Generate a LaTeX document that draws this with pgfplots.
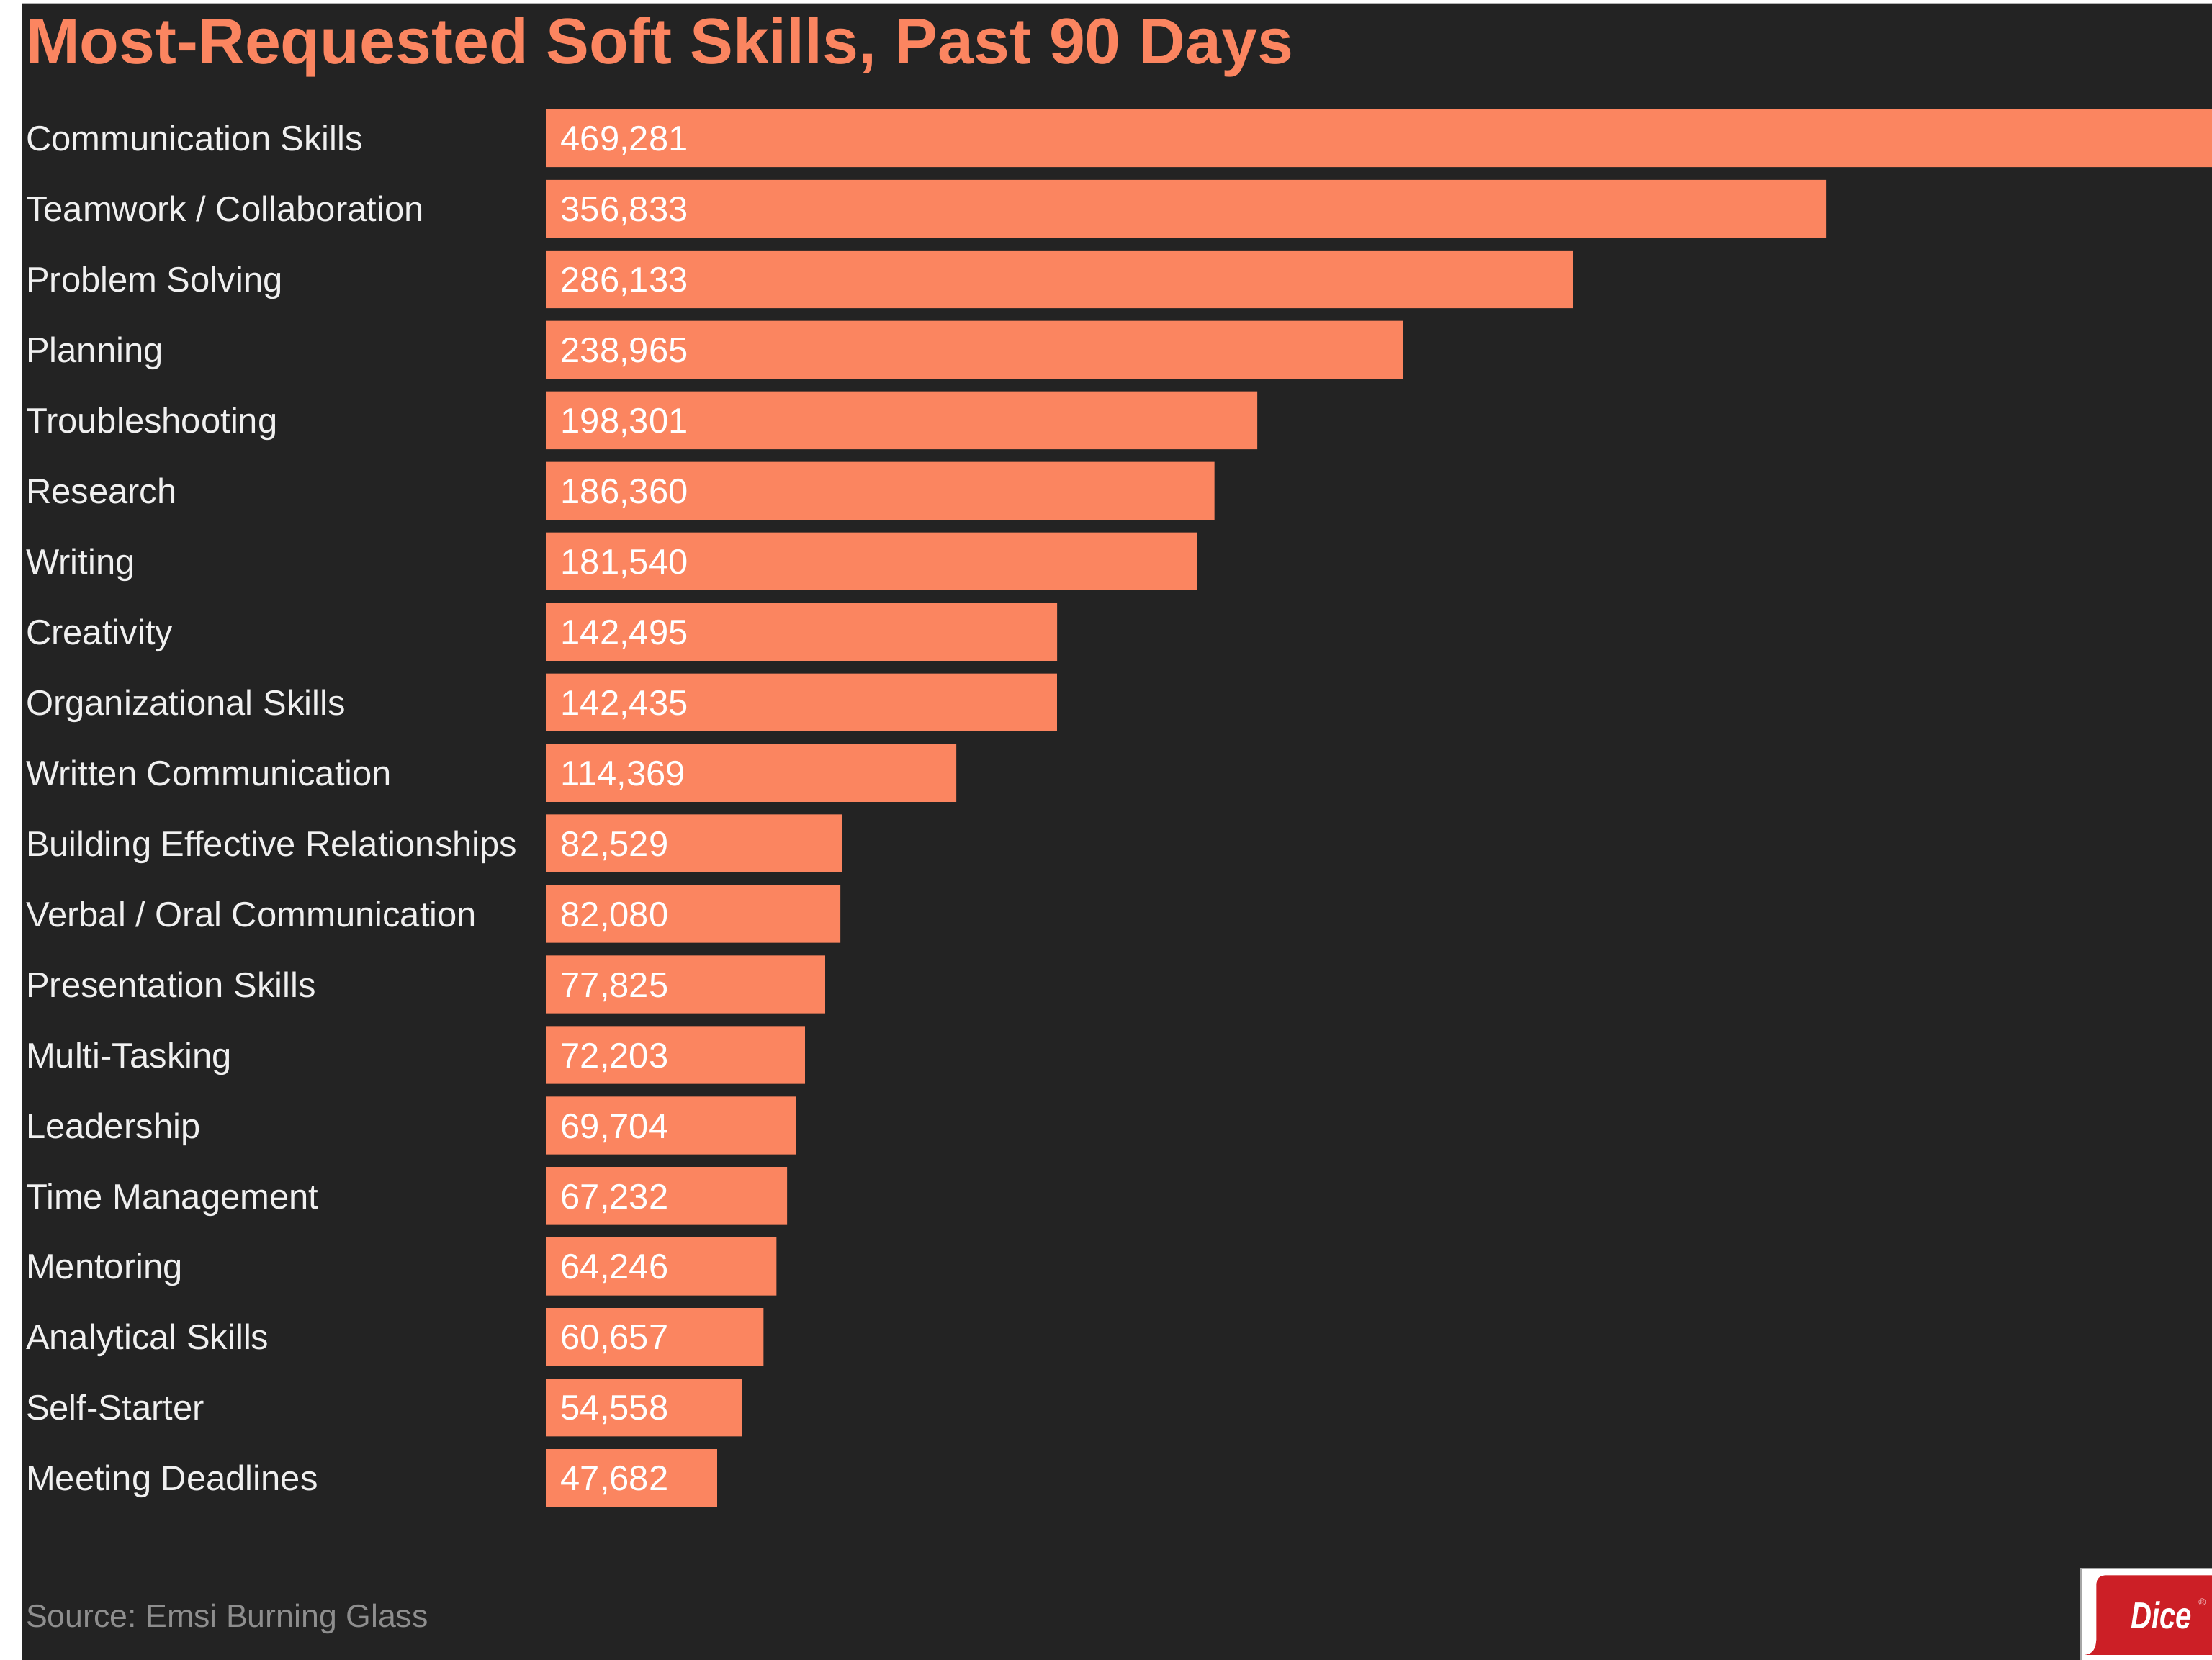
\documentclass[border=0pt]{standalone}
\usepackage{fontspec}
\setmainfont{Liberation Sans}
\newfontfamily\dicefont{Liberation Sans}[FakeStretch=0.77]
\usepackage{pgfplots}
\usepackage{pgfplotstable}
\pgfplotsset{compat=1.18}
\frenchspacing

\definecolor{bg}{HTML}{232323}
\definecolor{barorange}{HTML}{FB8560}
\definecolor{labelwhite}{HTML}{F0F0F0}
\definecolor{srcgray}{HTML}{8E8E8E}
\definecolor{dicered}{HTML}{CC1F26}

\pgfplotstableread[col sep=semicolon]{
idx;skill;count
0;Communication Skills;469281
1;Teamwork / Collaboration;356833
2;Problem Solving;286133
3;Planning;238965
4;Troubleshooting;198301
5;Research;186360
6;Writing;181540
7;Creativity;142495
8;Organizational Skills;142435
9;Written Communication;114369
10;Building Effective Relationships;82529
11;Verbal / Oral Communication;82080
12;Presentation Skills;77825
13;Multi-Tasking;72203
14;Leadership;69704
15;Time Management;67232
16;Mentoring;64246
17;Analytical Skills;60657
18;Self-Starter;54558
19;Meeting Deadlines;47682
}\skills

\begin{document}
\begin{tikzpicture}[x=1pt,y=1pt]
\useasboundingbox (0,0) rectangle (784,588.5);
\fill[white] (0,0) rectangle (784,588.5);
\fill[bg] (8,0) rectangle (784,587);
\draw[gray!60, line width=0.5pt] (8,587.2) -- (784,587.2);

% title
\node[anchor=base west, inner sep=0pt, text=barorange,
      font=\fontsize{22.9}{26}\selectfont\bfseries] at (9,566)
      {Most-Requested Soft Skills, Past 90 Days};

\begin{axis}[
    at={(193.5pt,52pt)}, anchor=south west,
    scale only axis, width=590.5pt, height=500pt,
    xbar, bar width=20.5pt, bar shift=0pt,
    xmin=0, xmax=464410,
    ymin=-0.5, ymax=19.5, y dir=reverse,
    axis line style={draw=none},
    xtick=\empty,
    ytick={0,...,19},
    yticklabels from table={\skills}{skill},
    major tick length=0pt,
    yticklabel style={anchor=base west, inner sep=0pt, xshift=-184.5pt,
        yshift=-4.5pt, text=labelwhite, font=\fontsize{12.5}{14}\selectfont},
]
\addplot[fill=barorange, draw=none] table[x=count, y=idx]{\skills};

% value labels at the base of each bar
\addplot[draw=none, fill=none,
    point meta=explicit,
    nodes near coords={\pgfmathprintnumber[fixed, precision=0, 1000 sep={,},
        assume math mode=true]{\pgfplotspointmeta}},
    every node near coord/.append style={anchor=base west, inner sep=0pt,
        xshift=5pt, yshift=-4.5pt, text=white, font=\fontsize{12.5}{14}\selectfont},
] table[x expr=0, y=idx, meta=count]{\skills};
\end{axis}

% source
\node[anchor=base west, inner sep=0pt, text=srcgray,
      font=\fontsize{11.4}{13}\selectfont] at (9,11.7) {Source: Emsi Burning Glass};

% logo
\fill[white] (737.5,0) rectangle (784,32.5);
\draw[gray!70, line width=0.5pt] (784,32.5) -- (737.5,32.5) -- (737.5,0);
\fill[dicered] (784,30) -- (746,30) arc[start angle=90, end angle=180, radius=3]
    -- (743,8) .. controls (743,3.5) and (741.5,2.2) .. (739,1.8) -- (784,1.8) -- cycle;
\node[anchor=base west, inner sep=0pt, text=white,
      font=\dicefont\fontsize{13.3}{15}\selectfont\bfseries\itshape] at (755,11) {Dice};
\node[inner sep=0pt, text=white!80!dicered, font=\fontsize{3.5}{4}\selectfont] at (780.5,20.5) {\textregistered};
\end{tikzpicture}
\end{document}
